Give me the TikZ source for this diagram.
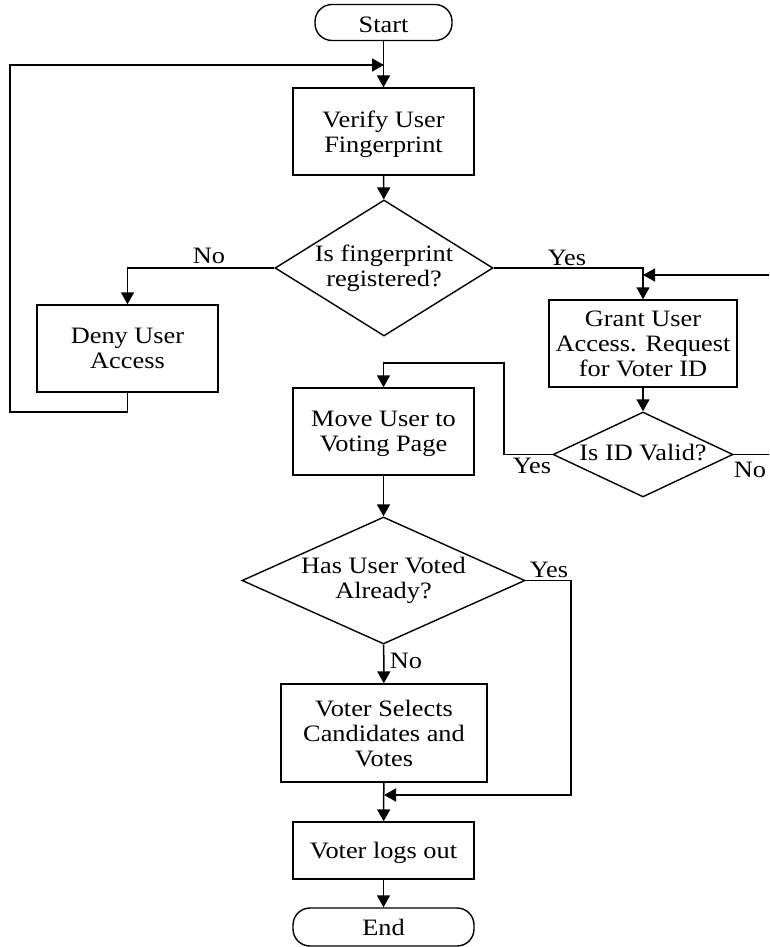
\documentclass[tikz,border=0pt]{standalone}
\usepackage{fontspec}
\setmainfont{Liberation Serif}[FakeStretch=1.12]
\usetikzlibrary{arrows.meta,shapes.geometric}

% text of a decision: zero-size box so the diamond keeps its given size
\newcommand\dectext[1]{\smash{\makebox[0pt]{\raisebox{-0.65ex}{\begin{tabular}{@{}c@{}}#1\end{tabular}}}}}

\tikzset{
  every node/.style={font=\fontsize{23.5}{25}\selectfont},
  procbox/.style={draw, line width=1.4pt, rectangle, inner sep=0pt, align=center,
                  text depth=0pt, minimum width=181pt, minimum height=87pt},
  termbox/.style={draw, line width=1.4pt, rectangle, rounded corners=17pt, inner sep=0pt,
                  text depth=0pt, minimum height=36pt},
  decbox/.style={draw, line width=1.4pt, diamond, inner sep=0pt},
  flow/.style={line width=1.5pt, -{Triangle[length=12pt,width=13pt]}},
  lbl/.style={anchor=base, inner sep=0pt}
}

\begin{document}
\begin{tikzpicture}[x=1pt, y=-1pt]
  \clip (0,0) rectangle (769,947);
  \fill[white] (0,0) rectangle (769,947);

  % terminals
  \node[termbox, minimum width=137pt, text height=21pt] (start) at (383.5,22.5) {Start};
  \node[termbox, minimum width=181pt, minimum height=38pt] (stop) at (383.5,927) {End};

  % process steps
  \node[procbox] (verify) at (383.5,131.5) {Verify User\\Fingerprint};
  \node[procbox] (deny)   at (127.5,348.5) {Deny User\\Access};
  \node[procbox, minimum width=188pt] (grant) at (643,343.5) {Grant User\\Access. Request\\for Voter ID};
  \node[procbox] (move)   at (383.5,431.5) {Move User to\\Voting Page};
  \node[procbox, minimum width=206pt, minimum height=98pt] (select) at (384,733) {Voter Selects\\Candidates and\\Votes};
  \node[procbox, minimum height=57pt] (logout) at (383.5,850.5) {Voter logs out};

  % decisions
  \node[decbox, minimum width=218pt, minimum height=136pt] (d1) at (384,268)
       {\dectext{Is fingerprint\\registered?}};
  \node[decbox, minimum width=180pt, minimum height=85pt] (d2) at (643,454.5)
       {\dectext{Is ID Valid?}};
  \node[decbox, minimum width=283pt, minimum height=127pt] (d3) at (383.5,580.5)
       {\dectext{Has User Voted\\Already?}};

  % corner points of the loops
  \coordinate (denyA) at (10,412);
  \coordinate (topIn) at (384,65);
  \coordinate (outR)  at (790,454.5);
  \coordinate (grantIn) at (643,275);
  \coordinate (validA) at (504,363);
  \coordinate (skipA) at (571,795);
  \coordinate (skipB) at (384,795);

  % main flow
  \draw[flow] (start) -- (verify);
  \draw[flow] (verify) -- (d1);
  \draw[flow] (d1.west) -| (deny.north);
  \draw[flow] (d1.east) -| (grant.north);
  \draw[flow] (grant) -- (d2);
  \draw[flow] (move) -- (d3);
  \draw[flow] (d3) -- (select);
  \draw[flow] (select) -- (logout);
  \draw[flow] (logout) -- (stop);

  % loops back
  \draw[flow] (deny.south) |- (denyA) |- (topIn);
  \draw[flow] (d2.east) -- (outR) |- (grantIn);
  \draw[flow] (d2.west) -| (validA) -| (move.north);
  \draw[flow] (d3.east) -| (skipA) -- (skipB);

  % branch labels
  \node[lbl] (no1)  at (209,263) {No};
  \node[lbl] (yes1) at (567,265) {Yes};
  \node[lbl] (yes2) at (532,473) {Yes};
  \node[lbl] (no2)  at (750,477) {No};
  \node[lbl] (yes3) at (549,577) {Yes};
  \node[lbl] (no3)  at (406,668) {No};
\end{tikzpicture}
\end{document}
